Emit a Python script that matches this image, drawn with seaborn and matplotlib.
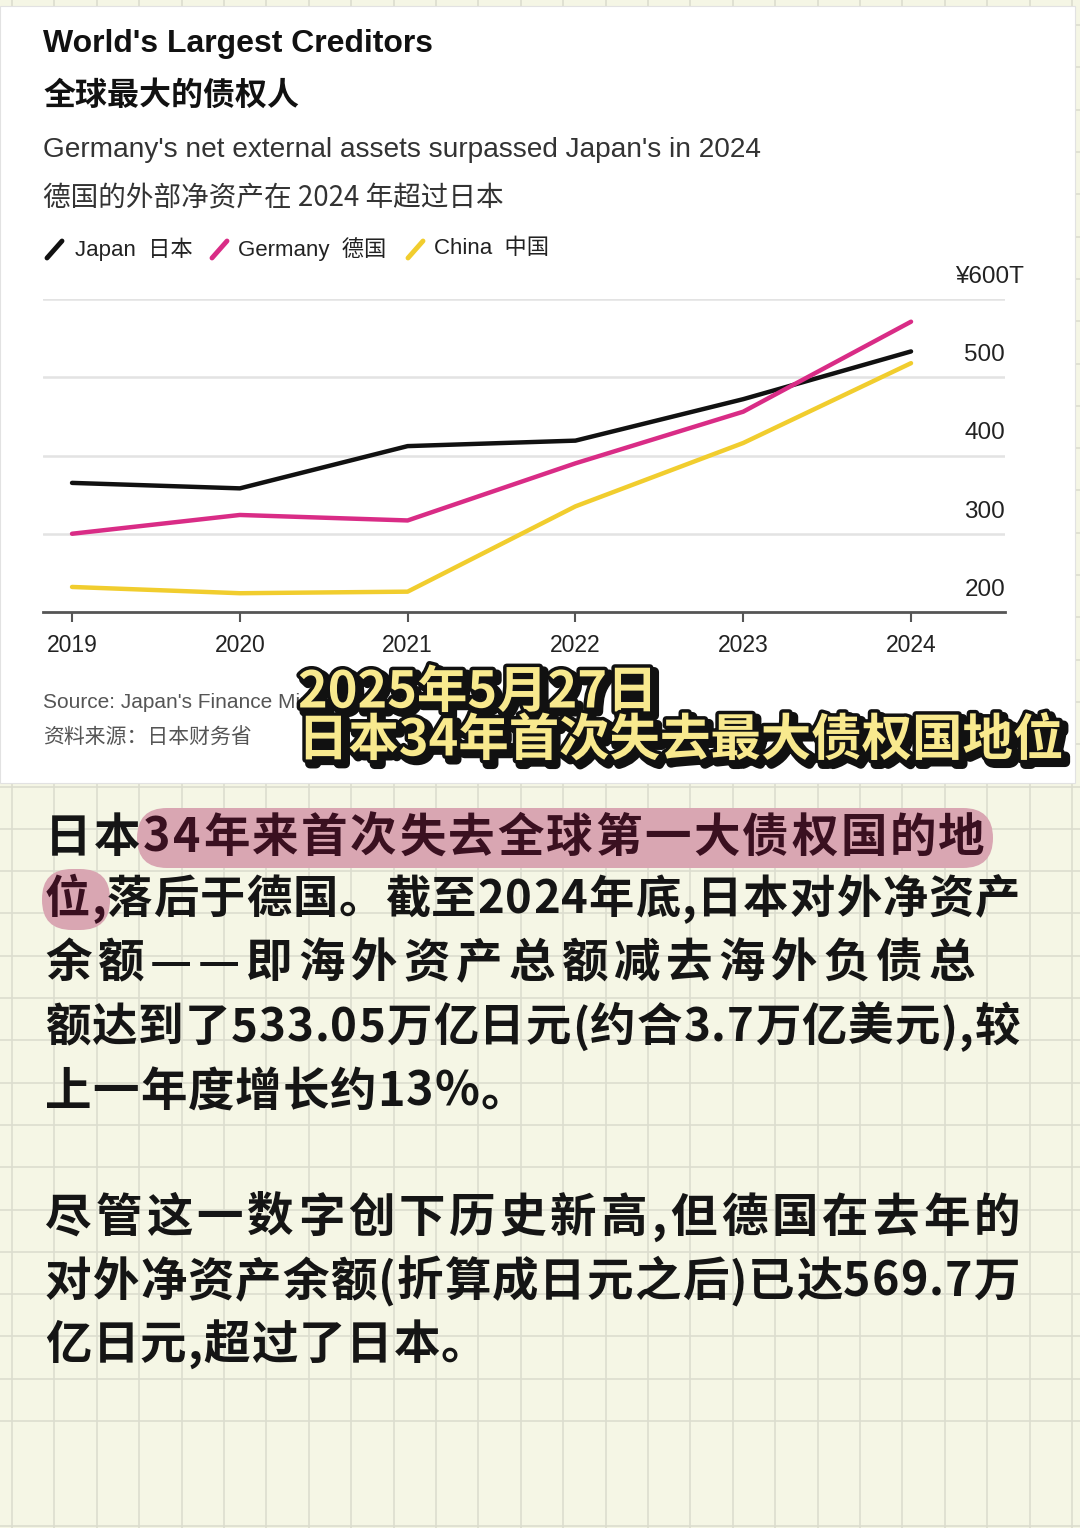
import numpy as np
import pandas as pd
import matplotlib
matplotlib.use("Agg")
import matplotlib.pyplot as plt
import matplotlib.patheffects as pe
from matplotlib.patches import Rectangle, FancyBboxPatch
from matplotlib.lines import Line2D
import seaborn as sns

# ---- data (¥ trillion) ----
years = [2019, 2020, 2021, 2022, 2023, 2024]
japan = [365, 358, 412, 419, 472, 533]
germany = [300, 324, 317, 390, 456, 571]
china = [232, 224, 226, 335, 416, 518]

series_names = ["Japan", "Germany", "China"]
series_colors = ["#111111", "#d92c86", "#f1cd2e"]
legend_labels = ["Japan  日本", "Germany  德国", "China  中国"]

y_ticks = [300, 400, 500, 600]
y_tick_labels = ["200", "300", "400", "500", "¥600T"]
y_label_values = [200, 300, 400, 500, 600]

title_en = "World's Largest Creditors"
title_cn = "全球最大的债权人"
subtitle_en = "Germany's net external assets surpassed Japan's in 2024"
subtitle_cn = "德国的外部净资产在 2024 年超过日本"
source_en = "Source: Japan's Finance Ministry"
source_cn = "资料来源：日本财务省"

overlay_lines = ["2025年5月27日", "日本34年首次失去最大债权国地位"]

body_lines = [
    "日本34年来首次失去全球第一大债权国的地",
    "位,落后于德国。截至2024年底,日本对外净资产",
    "余额——即海外资产总额减去海外负债总",
    "额达到了533.05万亿日元(约合3.7万亿美元),较",
    "上一年度增长约13%。",
    "尽管这一数字创下历史新高,但德国在去年的",
    "对外净资产余额(折算成日元之后)已达569.7万",
    "亿日元,超过了日本。",
]
body_y = [838, 900, 963, 1028, 1092, 1218, 1282, 1345]
body_right = [985, 1020, 975, 1020, 470, 1020, 1020, 455]

df = pd.DataFrame({
    "year": years * 3,
    "value": japan + germany + china,
    "country": [n for n in series_names for _ in years],
})

sns.set_theme(style="white")
LATIN = ["Liberation Sans", "Noto Sans CJK SC", "DejaVu Sans"]
CJK = ["Noto Sans CJK SC", "DejaVu Sans"]
plt.rcParams["font.family"] = LATIN

W, H = 1080, 1528
fig = plt.figure(figsize=(W / 100, H / 100), dpi=100, facecolor="#f5f6e5")
renderer = fig.canvas.get_renderer()

# page layer in pixel coordinates
page = fig.add_axes([0, 0, 1, 1], zorder=0)
page.set_xlim(0, W)
page.set_ylim(H, 0)
page.axis("off")
page.patch.set_alpha(0)

# grid paper
for gx in np.arange(12, W, 42.4):
    page.axvline(gx, color="#dcddcf", lw=1.2, zorder=1)
for gy in np.arange(1421, 0, -42.3):
    page.axhline(gy, color="#dcddcf", lw=1.2, zorder=1)
page.axhline(H - 2, color="#dcddcf", lw=1.2, zorder=1)

# white chart card
page.add_patch(Rectangle((0, 6), 1075, 777, facecolor="white",
                         edgecolor="#e2e2e2", lw=0.8, zorder=2))

page.text(43, 44, title_en, fontsize=23, fontweight="bold", color="#111",
          va="center", ha="left", zorder=3)
page.text(43, 96, title_cn, fontsize=23, fontweight="bold", color="#111",
          family=CJK, va="center", ha="left", zorder=3)
page.text(43, 150, subtitle_en, fontsize=20.2, color="#333",
          va="center", ha="left", zorder=3)
page.text(43, 198, subtitle_cn, fontsize=19.9, color="#333",
          family=CJK, va="center", ha="left", zorder=3)

leg_x = [45, 210, 406]
leg_text_x = [75, 238, 434]
for lx, tx, col, lab in zip(leg_x, leg_text_x, series_colors, legend_labels):
    page.add_line(Line2D([lx + 2, lx + 17], [258, 241], color=col, lw=3.5,
                         solid_capstyle="round", zorder=3))
    page.text(tx, 249, lab, fontsize=16, color="#222", va="center",
              ha="left", zorder=3)

page.text(43, 702, source_en, fontsize=15, color="#555", va="center", zorder=3)
page.text(43, 738, source_cn, fontsize=15, color="#555", family=CJK,
          va="center", zorder=3)

# body text, glyph by glyph so long lines span the same width as the note
BODY_FS = 33.5


def glyph_widths(txt, fs):
    out = []
    for ch in txt:
        t = page.text(0, 0, ch, fontsize=fs, fontweight="bold", family=CJK)
        out.append(t.get_window_extent(renderer).width)
        t.remove()
    return out


glyph_x = []
line_fs = []
for txt, yy, xr in zip(body_lines, body_y, body_right):
    fs = BODY_FS
    widths = glyph_widths(txt, fs)
    room = xr - 45
    if room > 800 and sum(widths) + len(txt) > room:
        # long line that would run past the margin: shrink it a little
        fs = BODY_FS * (room - len(txt)) / sum(widths)
        widths = glyph_widths(txt, fs)
    gap = max((room - sum(widths)) / max(len(txt) - 1, 1), 1.0)
    xs = []
    x = 45
    for w in widths:
        xs.append((x, w))
        x += w + gap
    glyph_x.append(xs)
    line_fs.append(fs)

# highlight marks: rest of line 1 after "日本", and "位," on line 2
hl_col = "#d9a6b2"
x0 = glyph_x[0][2][0] - 6
x1 = glyph_x[0][-1][0] + glyph_x[0][-1][1] + 8
page.add_patch(FancyBboxPatch((x0, 808), x1 - x0, 60,
                              boxstyle="round,pad=0,rounding_size=30",
                              facecolor=hl_col, edgecolor="none", zorder=2))
x2 = glyph_x[1][1][0] + glyph_x[1][1][1] + 4
page.add_patch(FancyBboxPatch((42, 869), x2 - 42, 61,
                              boxstyle="round,pad=0,rounding_size=30",
                              facecolor=hl_col, edgecolor="none", zorder=2))

for li, (txt, yy) in enumerate(zip(body_lines, body_y)):
    for ci, (ch, (gx, gw)) in enumerate(zip(txt, glyph_x[li])):
        hot = (li == 0 and ci >= 2) or (li == 1 and ci < 2)
        page.text(gx, yy, ch, fontsize=line_fs[li], fontweight="bold",
                  color="#3a1020" if hot else "#151515", family=CJK,
                  va="center", ha="left", zorder=3)

# ---- the line chart ----
ax_left, ax_right, ax_top, ax_bot = 43, 1005, 299, 612
ax = fig.add_axes([ax_left / W, 1 - ax_bot / H, (ax_right - ax_left) / W,
                   (ax_bot - ax_top) / H], zorder=1)
ax.patch.set_alpha(0)

sns.lineplot(data=df, x="year", y="value", hue="country",
             hue_order=series_names, palette=series_colors, lw=3.2,
             legend=False, ax=ax, zorder=3)

ax.set_xlim(2018.827, 2024.56)
ax.set_ylim(200, 600)
ax.set_xlabel("")
ax.set_ylabel("")
for s in ["top", "right", "left"]:
    ax.spines[s].set_visible(False)
ax.spines["bottom"].set_color("#555")
ax.spines["bottom"].set_linewidth(2)
ax.set_yticks(y_ticks)
ax.yaxis.grid(True, color="#e3e3e3", lw=1.8)
ax.tick_params(axis="y", left=False, labelleft=False)
ax.set_xticks(years)
ax.set_xticklabels([str(y) for y in years], fontsize=16.5, color="#222")
ax.tick_params(axis="x", bottom=True, length=7, width=1.5, color="#555",
               pad=9)

for v, lab in zip(y_label_values, y_tick_labels):
    dx = 14 if lab.endswith("T") else 0
    ax.annotate(lab, xy=(1, v), xycoords=("axes fraction", "data"),
                xytext=(dx, 16), textcoords="offset points", ha="right",
                va="center", fontsize=17.5, color="#222")

# ---- overlay caption ----
over = fig.add_axes([0, 0, 1, 1], zorder=5)
over.set_xlim(0, W)
over.set_ylim(H, 0)
over.axis("off")
over.patch.set_alpha(0)
effects = [pe.Stroke(linewidth=7, foreground="#111", offset=(3, -3)),
           pe.Stroke(linewidth=5, foreground="#111"), pe.Normal()]
for txt, yy in zip(overlay_lines, [693, 741]):
    over.text(298, yy, txt, fontsize=36.3, fontweight="heavy", color="#f8e98e",
              family=CJK, va="center", ha="left", path_effects=effects)

fig.savefig("out.png", dpi=100, facecolor=fig.get_facecolor())
